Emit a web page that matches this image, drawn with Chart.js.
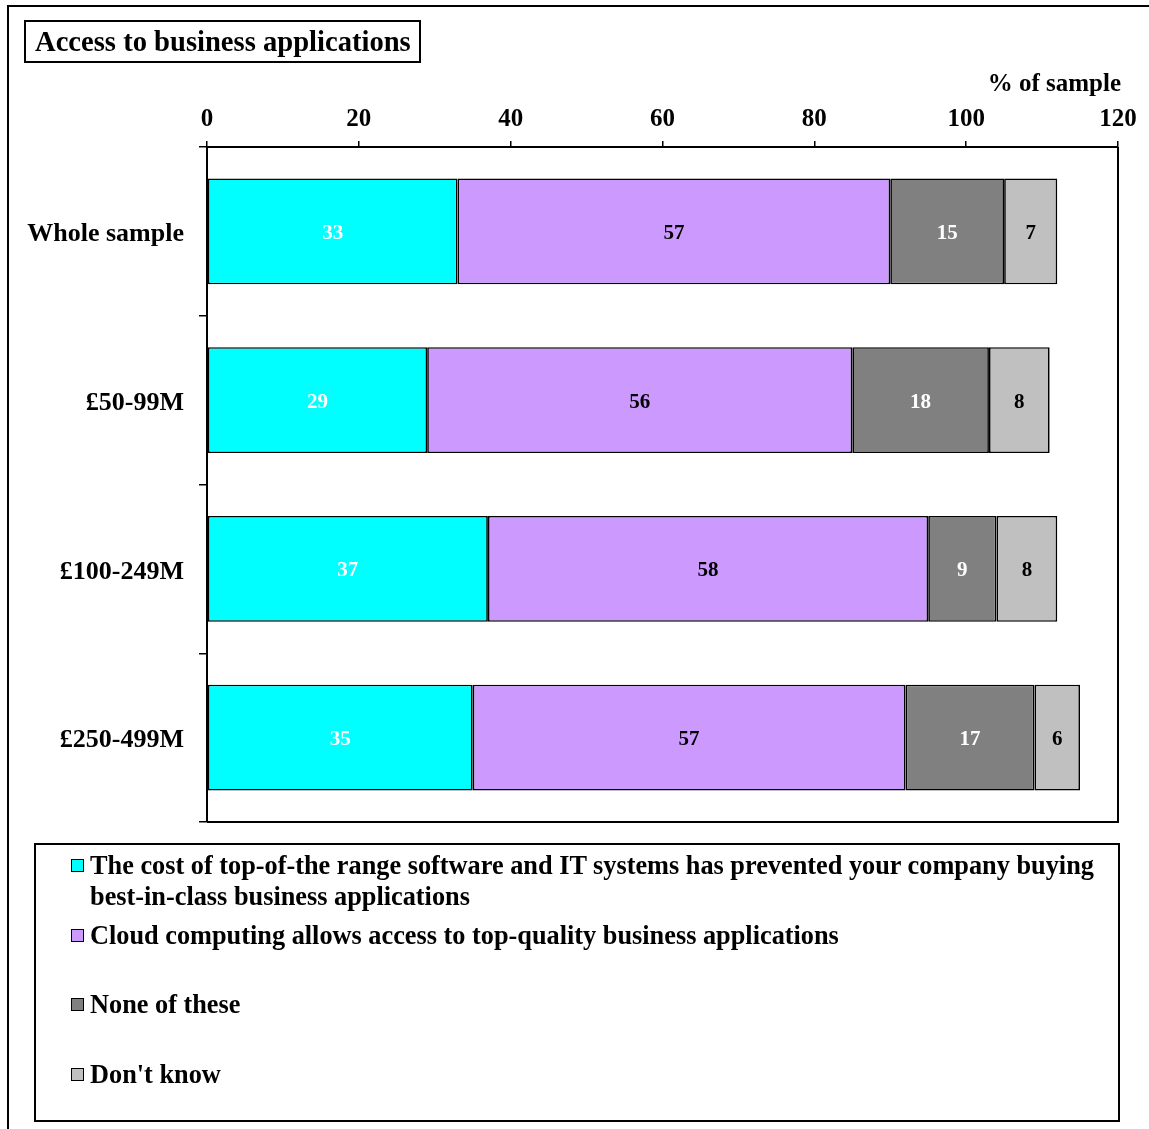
<!DOCTYPE html>
<html>
<head>
<meta charset="utf-8">
<title>Access to business applications</title>
<script src="https://cdn.jsdelivr.net/npm/chart.js@4.4.0/dist/chart.umd.min.js"></script>
<style>
  body { margin: 0; background: #fff; }
  #page {
    position: relative; width: 1149px; height: 1129px; overflow: hidden;
    font-family: "Liberation Serif", "Times New Roman", serif; font-weight: bold; color: #000;
  }
  #frame {
    position: absolute; left: 7px; top: 5px; width: 1300px; height: 1300px;
    border-left: 2px solid #000; border-top: 2px solid #000;
  }
  #chart { position: absolute; left: 0; top: 0; }
  #title {
    position: absolute; left: 24px; top: 20px; width: 397px; height: 43px; box-sizing: border-box;
    border: 2px solid #000; padding-left: 9px; font-size: 28.6px; line-height: 39px; white-space: nowrap;
  }
  #unit { position: absolute; right: 28px; top: 68px; font-size: 25px; line-height: 30px; }
  #legend {
    position: absolute; left: 34px; top: 843px; width: 1086px; height: 279px; box-sizing: border-box;
    border: 2px solid #000; padding-top: 5px;
  }
  .item { position: relative; height: 69.7px; padding-left: 54px; padding-right: 10px; font-size: 26.3px; line-height: 31px; }
  .swatch {
    position: absolute; left: 35px; top: 9px; width: 11px; height: 11px; border: 1.5px solid #000;
  }
</style>
</head>
<body>
<div id="page">
  <div id="frame"></div>
  <canvas id="chart" width="1149" height="1129"></canvas>
  <div id="title">Access to business applications</div>
  <div id="unit">% of sample</div>
  <div id="legend"></div>
</div>
<script>
// categories and the four answer series (% of sample)
const categories = ['Whole sample', '£50-99M', '£100-249M', '£250-499M'];
const seriesNames = [
  'The cost of top-of-the range software and IT systems has prevented your company buying best-in-class business applications',
  'Cloud computing allows access to top-quality business applications',
  'None of these',
  "Don't know"
];
const costPrevented = [33, 29, 37, 35];
const cloudAccess = [57, 56, 58, 57];
const noneOfThese = [15, 18, 9, 17];
const dontKnow = [7, 8, 8, 6];
const xTicks = [0, 20, 40, 60, 80, 100, 120];

const fills = ['#00FFFF', '#CC99FF', '#808080', '#C0C0C0'];
const labelColours = ['#FFFFFF', '#000000', '#FFFFFF', '#000000'];
const serif = '"Liberation Serif", "Times New Roman", serif';

const values = [costPrevented, cloudAccess, noneOfThese, dontKnow];

// legend box below the plot
const legendEl = document.getElementById('legend');
seriesNames.forEach((name, i) => {
  const item = document.createElement('div');
  item.className = 'item';
  const sw = document.createElement('span');
  sw.className = 'swatch';
  sw.style.background = fills[i];
  item.appendChild(sw);
  item.appendChild(document.createTextNode(name));
  legendEl.appendChild(item);
});

// value written in the middle of each bar segment
const barLabels = {
  id: 'barLabels',
  afterDatasetsDraw(chart) {
    const ctx = chart.ctx;
    ctx.save();
    ctx.font = 'bold 21px ' + serif;
    ctx.textAlign = 'center';
    ctx.textBaseline = 'middle';
    chart.data.datasets.forEach((ds, i) => {
      chart.getDatasetMeta(i).data.forEach((bar, j) => {
        const p = bar.getProps(['x', 'y', 'base'], true);
        ctx.fillStyle = labelColours[i];
        ctx.fillText(ds.data[j], (p.x + p.base) / 2, p.y + 2);
      });
    });
    ctx.restore();
  }
};

// right and bottom edges of the plot box
const plotBox = {
  id: 'plotBox',
  afterDraw(chart) {
    const { ctx, chartArea: a } = chart;
    ctx.save();
    ctx.strokeStyle = '#000';
    ctx.lineWidth = 2;
    ctx.beginPath();
    ctx.moveTo(a.right, a.top);
    ctx.lineTo(a.right, a.bottom);
    ctx.lineTo(a.left, a.bottom);
    ctx.stroke();
    ctx.restore();
  }
};

new Chart(document.getElementById('chart'), {
  type: 'bar',
  data: {
    labels: categories,
    datasets: values.map((v, i) => ({
      label: seriesNames[i],
      data: v,
      backgroundColor: fills[i],
      borderColor: '#000',
      borderWidth: 1.7,
      borderSkipped: false,
      barPercentage: 0.628,
      categoryPercentage: 1
    }))
  },
  options: {
    indexAxis: 'y',
    responsive: false,
    animation: false,
    devicePixelRatio: 1,
    layout: { padding: { top: 0, left: 0, right: 31, bottom: 307 } },
    plugins: { legend: { display: false }, tooltip: { enabled: false } },
    scales: {
      x: {
        position: 'top',
        stacked: true,
        min: 0,
        max: 120,
        afterBuildTicks: s => { s.ticks = xTicks.map(v => ({ value: v })); },
        afterFit: s => { s.height = 147; },
        ticks: { color: '#000', font: { family: serif, size: 25, weight: 'bold' }, padding: 6, maxRotation: 0 },
        grid: { drawOnChartArea: false, color: '#000', lineWidth: 1.5, tickLength: 6 },
        border: { color: '#000', width: 2 }
      },
      y: {
        stacked: true,
        afterFit: s => { s.width = 207; },
        ticks: { color: '#000', font: { family: serif, size: 26, weight: 'bold' }, padding: 15, labelOffset: 3 },
        grid: { drawOnChartArea: false, color: '#000', lineWidth: 1.5, tickLength: 8, offset: true },
        border: { color: '#000', width: 2 }
      }
    }
  },
  plugins: [barLabels, plotBox]
});
</script>
</body>
</html>
